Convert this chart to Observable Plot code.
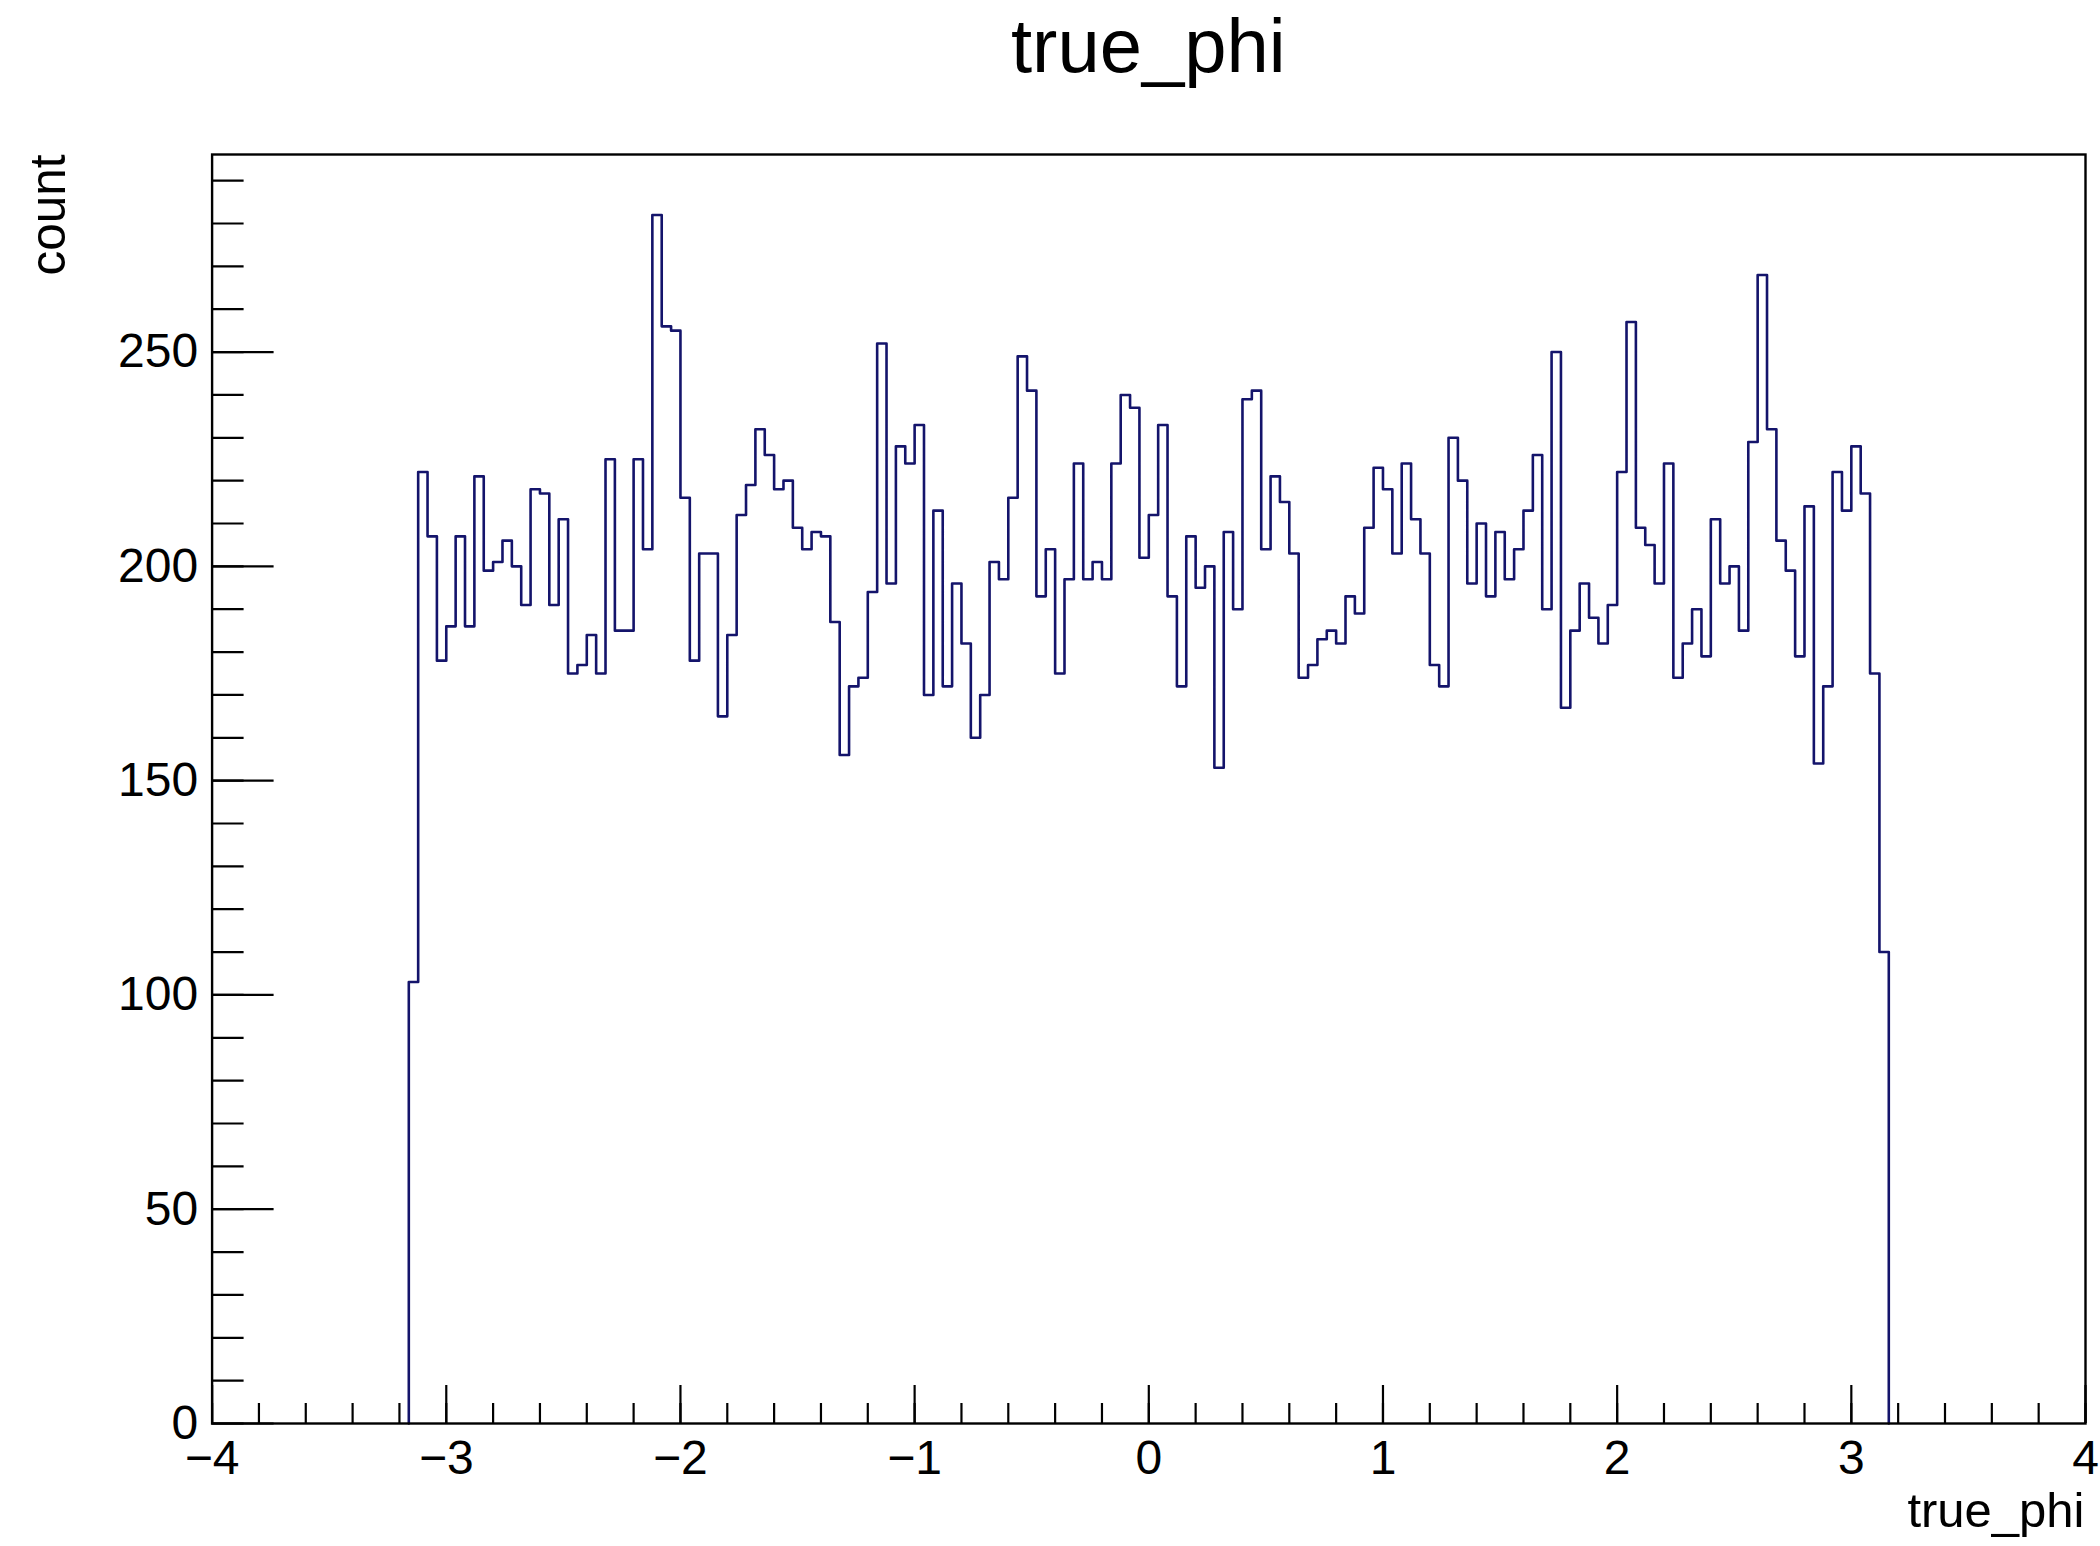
<!DOCTYPE html>
<html><head><meta charset="utf-8">
<script src="https://cdn.jsdelivr.net/npm/d3@7"></script>
<script src="https://cdn.jsdelivr.net/npm/@observablehq/plot@0.6"></script>
<style>
html,body{margin:0;padding:0;background:#fff;}
#wrap{width:2100px;height:1546px;position:relative;overflow:hidden;font-family:"Liberation Sans",Arial,Helvetica,sans-serif;}
#title{margin-left:211.6px;width:1873.4px;height:92px;line-height:92px;text-align:center;font-size:76px;color:#000;white-space:nowrap;}
</style></head><body>
<div id="wrap"><div id="title">true_phi</div><div id="chart"></div></div>
<script>
// Histogram of true_phi: first bin starts at binStart, each bin binWidth wide
const binStart = -3.16;
const binWidth = 0.04;
const counts = [
  103,222,207,178,186,207,186,221,199,201, 206,200,191,218,217,191,211,175,177,184,
  175,225,185,185,225,204,282,256,255,216, 178,203,203,165,184,212,219,232,226,218,
  220,209,204,208,207,187,156,172,174,194, 252,196,228,224,233,170,213,172,196,182,
  160,170,201,197,216,249,241,193,204,175, 197,224,197,201,197,224,240,237,202,212,
  233,193,172,207,195,200,153,208,190,239, 241,204,221,215,203,174,177,183,185,182,
  193,189,209,223,218,203,224,211,203,177, 172,230,220,196,210,193,208,197,204,213,
  226,190,250,167,185,196,188,182,191,222, 257,209,205,196,224,174,182,190,179,211,
  196,200,185,229,268,232,206,199,179,214, 154,172,222,213,228,217,175,110
];
const xMajorTicks = [-4,-3,-2,-1,0,1,2,3,4];
const yMajorTicks = [0,50,100,150,200,250];
const xMinorTicks = d3.range(-4, 4.0001, 0.2);
const yMinorTicks = d3.range(0, 291, 10);
const titleText = "true_phi";
const xLabel = "true_phi";
const yLabel = "count";

const xDomain = [-4, 4];
const yDomain = [0, 296.1];

// step outline points
const pts = [{x: binStart, y: 0}];
counts.forEach((c, i) => pts.push({x: binStart + i * binWidth, y: c}));
pts.push({x: binStart + counts.length * binWidth, y: 0});

const W = 2100, H = 1454, mL = 211.6, mR = 15, mT = 62, mB = 123;
const frameW = W - mL - mR, frameH = H - mT - mB;
const pxToX = px => px / frameW * (xDomain[1] - xDomain[0]);
const pxToY = px => px / frameH * (yDomain[1] - yDomain[0]);
const ink = "#000";
const histColor = "#14146b";

const chart = Plot.plot({
  width: W, height: H,
  marginLeft: mL, marginRight: mR, marginTop: mT, marginBottom: mB,
  x: {domain: xDomain},
  y: {domain: yDomain},
  style: {fontFamily: "'Liberation Sans', Arial, Helvetica, sans-serif", background: "white", color: "black", overflow: "visible"},
  marks: [
    Plot.line(pts, {x: "x", y: "y", curve: "step-after", stroke: histColor, strokeWidth: 2.6}),
    Plot.ruleY(yMinorTicks, {y: d => d, x1: xDomain[0], x2: xDomain[0] + pxToX(32), stroke: ink, strokeWidth: 2.2}),
    Plot.ruleY(yMajorTicks, {y: d => d, x1: xDomain[0], x2: xDomain[0] + pxToX(62), stroke: ink, strokeWidth: 2.2}),
    Plot.ruleX(xMinorTicks, {x: d => d, y1: 0, y2: pxToY(20), stroke: ink, strokeWidth: 2.2}),
    Plot.ruleX(xMajorTicks, {x: d => d, y1: 0, y2: pxToY(38), stroke: ink, strokeWidth: 2.2}),
    Plot.frame({stroke: ink, strokeWidth: 2.4}),
    Plot.axisY({ticks: yMajorTicks, tickSize: 0, tickPadding: 14, fontSize: 48, label: null, fill: ink}),
    Plot.axisX({ticks: xMajorTicks, tickSize: 0, tickPadding: 16, fontSize: 48, label: null, fill: ink}),
    Plot.text([yLabel], {text: d => d, frameAnchor: "top-left", rotate: -90, textAnchor: "end", lineAnchor: "middle", dx: -163.4, fontSize: 49.5, fill: ink}),
    Plot.text([xLabel], {text: d => d, frameAnchor: "bottom-right", textAnchor: "end", lineAnchor: "top", dx: -1, dy: 69, fontSize: 49, fill: ink})
  ]
});
document.getElementById("title").textContent = titleText;
document.getElementById("chart").appendChild(chart);
</script>
</body></html>
